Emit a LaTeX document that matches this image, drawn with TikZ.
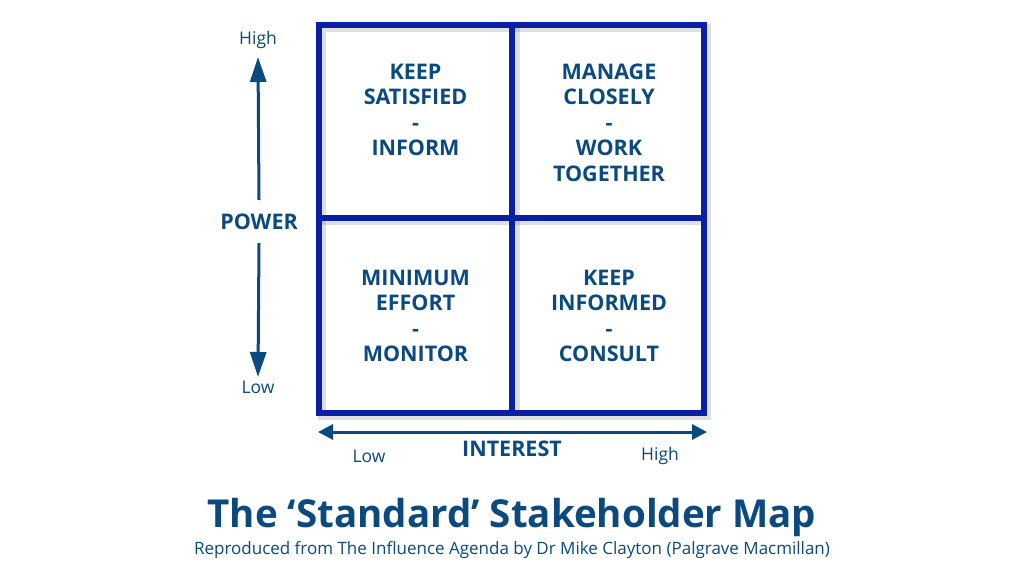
\documentclass[tikz,border=0pt]{standalone}
\usepackage{fontspec}
\setmainfont{Open Sans}
\usetikzlibrary{arrows.meta}
\definecolor{txtblue}{HTML}{0B4A7E}
\definecolor{gridblue}{HTML}{0A1FA3}
\tikzset{
  quad/.style={font=\bfseries\fontsize{21.5}{25.5}\selectfont, text=txtblue, align=center, inner sep=0pt},
  axislabel/.style={font=\bfseries\fontsize{21.5}{24}\selectfont, text=txtblue, inner sep=0pt},
  endlabel/.style={font=\fontsize{17.5}{20}\selectfont, text=txtblue, inner sep=0pt},
  gridline/.style={draw=gridblue, line width=6.5pt},
  shadowline/.style={draw=black, opacity=0.12, line width=8pt},
  varrow/.style={draw=txtblue, line width=3pt, -{Triangle[length=25pt,width=16pt]}},
  harrow/.style={draw=txtblue, line width=3pt, {Triangle[length=15pt,width=15pt]}-{Triangle[length=15pt,width=15pt]}},
}
\begin{document}
\begin{tikzpicture}[x=1pt,y=-1pt]
\useasboundingbox (0,0) rectangle (1024,576);
\fill[white] (0,0) rectangle (1024,576);
% grid shadow
\draw[shadowline] (322,28) rectangle (707,416);
\draw[shadowline] (515.5,28) -- (515.5,416);
\draw[shadowline] (322,221) -- (707,221);
% grid
\draw[gridline] (319,25) rectangle (704,413);
\draw[gridline] (512,25) -- (512,413);
\draw[gridline] (319,218) -- (704,218);
% quadrant texts
\node[quad] (tl) at (415.5,110) {KEEP\\SATISFIED\\-\\INFORM};
\node[quad] (tr) at (609,122.5) {MANAGE\\CLOSELY\\-\\WORK\\TOGETHER};
\node[quad] (bl) at (415.5,316) {MINIMUM\\EFFORT\\-\\MONITOR};
\node[quad] (br) at (609,316) {KEEP\\INFORMED\\-\\CONSULT};
% power axis
\node[axislabel] (power) at (259,222) {POWER};
\node[endlabel] (phigh) at (258,40) {High};
\node[endlabel] (plow) at (258,387) {Low};
\coordinate (pup) at (258,57);
\coordinate (pdown) at (258,377);
\draw[varrow] (power.north |- 0,200) -- (pup);
\draw[varrow] (power.south |- 0,243) -- (pdown);
% interest axis
\coordinate (ileft) at (318,432);
\coordinate (iright) at (707,432);
\draw[harrow] (ileft) -- (iright);
\node[axislabel] (interest) at (512,449) {INTEREST};
\node[endlabel] (ilow) at (369,456) {Low};
\node[endlabel] (ihigh) at (660,456) {High};
% title
\node[font=\bfseries\fontsize{38.5}{42}\selectfont, text=txtblue, inner sep=0pt] (title) at (512,517) {The ‘Standard’ Stakeholder Map};
\node[font=\fontsize{17}{20}\selectfont, text=txtblue, inner sep=0pt] (sub) at (512,550) {Reproduced from The Influence Agenda by Dr Mike Clayton (Palgrave Macmillan)};
\end{tikzpicture}
\end{document}
